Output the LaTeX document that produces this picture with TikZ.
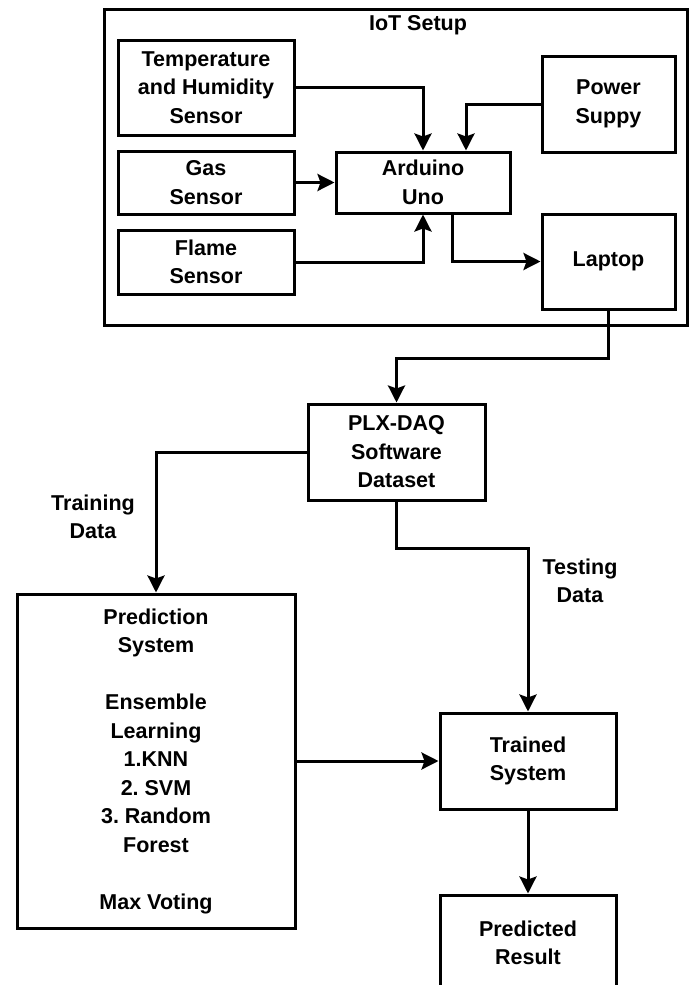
\documentclass[tikz,border=0pt]{standalone}
\usepackage{fontspec}
\setmainfont{Liberation Sans}
\usetikzlibrary{arrows.meta}
\frenchspacing

\newlength\lineGap
\setlength\lineGap{28.5pt}

\tikzset{
  block/.style={draw, line width=3pt, align=center, inner sep=0pt},
  link/.style={line width=3pt, -{Stealth[length=17pt,width=17pt,inset=3pt]}},
}

\begin{document}
\begin{tikzpicture}[x=1pt, y=-1pt, font=\fontsize{21.5}{28.5}\selectfont\bfseries]
    \useasboundingbox (0,0) rectangle (689,985);

    % iot setup frame
    \node[block, minimum width=583pt, minimum height=316pt] (iot) at (395.5,167) {};
    \node (iotTitle) at (418,25) {IoT Setup};

    % sensors
    \node[block, minimum width=176pt, minimum height=95pt] (temp) at (206,87.5) {Temperature\\and Humidity\\Sensor};
    \node[block, minimum width=176pt, minimum height=63pt] (gas) at (206,182.5) {Gas\\Sensor};
    \node[block, minimum width=176pt, minimum height=64pt] (flame) at (206,262) {Flame\\Sensor};

    % board, power and laptop
    \node[block, minimum width=174pt, minimum height=61pt] (arduino) at (423,182.5) {Arduino\\Uno};
    \node[block, minimum width=133pt, minimum height=96pt] (power) at (608.5,104) {Power\\Suppy};
    \node[block, minimum width=133pt, minimum height=95pt] (laptop) at (608.5,261.5) {Laptop};

    % data and learning
    \node[block, minimum width=177pt, minimum height=96pt] (plx) at (396.5,452) {PLX-DAQ\\Software\\Dataset};
    \node[block, minimum width=278pt, minimum height=334pt] (pred) at (156,761)
      {Prediction\\System\\[\lineGap]Ensemble\\Learning\\1.KNN\\2. SVM\\3. Random\\Forest\\[\lineGap]Max Voting};
    \node[block, minimum width=176pt, minimum height=96pt] (trained) at (528,761) {Trained\\System};
    \node[block, minimum width=176pt, minimum height=96pt] (result) at (528,943) {Predicted\\Result};

    % edge labels
    \node[align=center] (trainLbl) at (93,517) {Training\\Data};
    \node[align=center] (testLbl) at (580,581) {Testing\\Data};

    % helper points
    \coordinate (powerIn) at ([xshift=43pt]arduino.north);
    \coordinate (boardOut) at ([xshift=29pt]arduino.south);

    % connectors
    \draw[link] (temp.east) -| (arduino.north);
    \draw[link] (power.west) -| (powerIn);
    \draw[link] (gas.east) -- (arduino.west);
    \draw[link] (flame.east) -| (arduino.south);
    \draw[link] (boardOut) |- (laptop.west);
    \draw[link] (laptop.south) -- ++(0,48) -| (plx.north);
    \draw[link] (plx.west) -| (pred.north);
    \draw[link] (plx.south) -- ++(0,47) -| (trained.north);
    \draw[link] (pred.east) -- (trained.west);
    \draw[link] (trained.south) -- (result.north);
\end{tikzpicture}
\end{document}
